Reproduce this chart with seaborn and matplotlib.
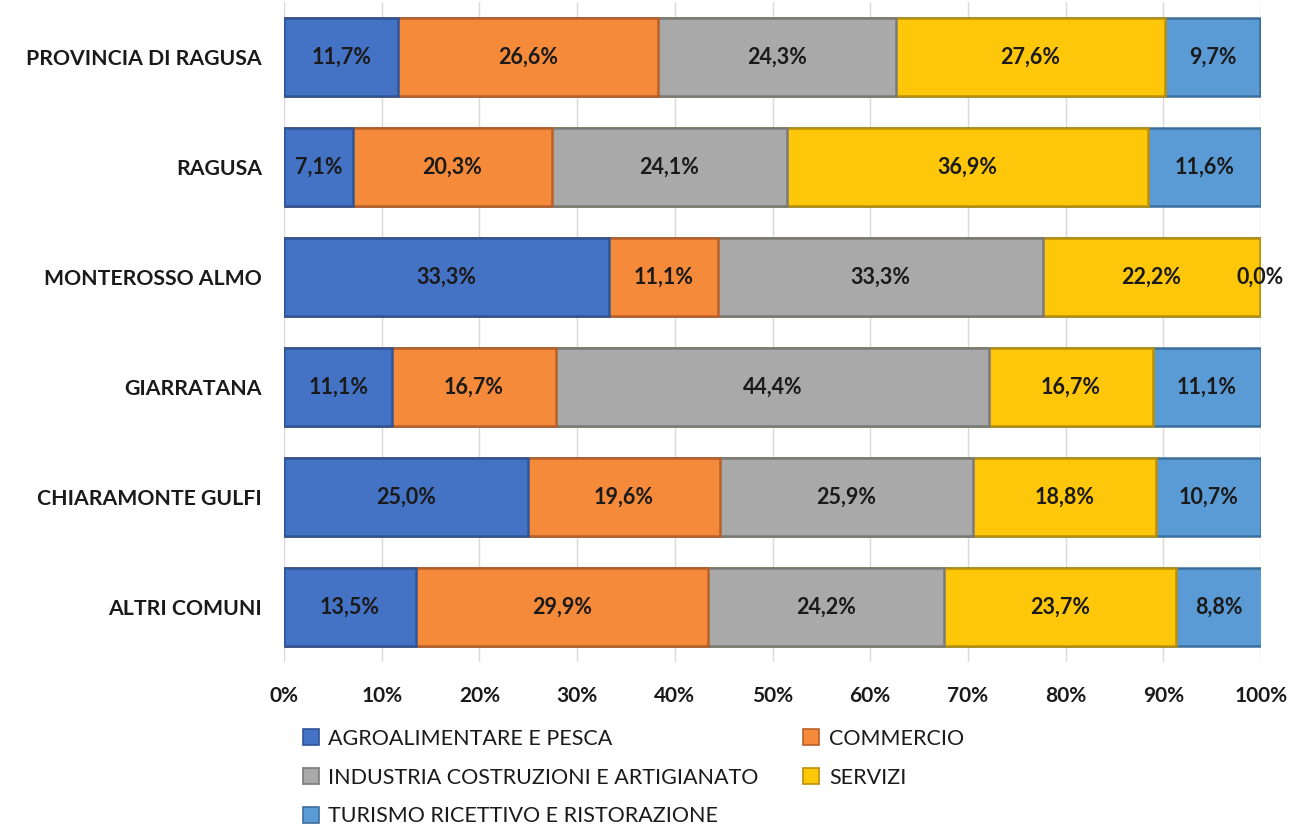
import numpy as np
import pandas as pd
import matplotlib
matplotlib.use("Agg")
import matplotlib.pyplot as plt
import seaborn as sns
from matplotlib.patches import Patch

categories = ["PROVINCIA DI RAGUSA", "RAGUSA", "MONTEROSSO ALMO", "GIARRATANA",
              "CHIARAMONTE GULFI", "ALTRI COMUNI"]
series_names = ["AGROALIMENTARE E PESCA", "COMMERCIO",
                "INDUSTRIA COSTRUZIONI E ARTIGIANATO", "SERVIZI",
                "TURISMO RICETTIVO E RISTORAZIONE"]
agro = [11.7, 7.1, 33.3, 11.1, 25.0, 13.5]
commercio = [26.6, 20.3, 11.1, 16.7, 19.6, 29.9]
industria = [24.3, 24.1, 33.3, 44.4, 25.9, 24.2]
servizi = [27.6, 36.9, 22.2, 16.7, 18.8, 23.7]
turismo = [9.7, 11.6, 0.0, 11.1, 10.7, 8.8]
x_ticks = [0, 10, 20, 30, 40, 50, 60, 70, 80, 90, 100]
x_ticklabels = ["0%", "10%", "20%", "30%", "40%", "50%", "60%", "70%", "80%", "90%", "100%"]

colors = ["#4472C4", "#F58A3A", "#A9A9A9", "#FFC709", "#5B9BD5"]
edges = ["#2F5597", "#B8602A", "#7A7A7A", "#B8900A", "#3C6E9C"]

sns.set_style("white")
plt.rcParams["font.family"] = ["Lato", "DejaVu Sans"]

series = [agro, commercio, industria, servizi, turismo]
df = pd.DataFrame({name: vals for name, vals in zip(series_names, series)})
df["cat"] = categories
cum = df[series_names].cumsum(axis=1)

fig = plt.figure(figsize=(12.89, 8.26), dpi=100)
ax = fig.add_axes([284/1289, 1 - 662/826, (1261 - 284)/1289, 660/826])

for i in reversed(range(len(series_names))):
    name = series_names[i]
    d = pd.DataFrame({"cat": categories, "val": cum[name].values})
    sns.barplot(data=d, x="val", y="cat", orient="h", color=colors[i],
                width=0.71, ax=ax, edgecolor=edges[i], linewidth=1.8,
                saturation=1, zorder=2)

for r, cat in enumerate(categories):
    for i, name in enumerate(series_names):
        v = df.loc[r, name]
        c = cum.loc[r, name]
        ax.text(c - v / 2, r, f"{v:.1f}".replace(".", ",") + "%",
                ha="center", va="center", fontsize=15.5, fontweight="bold",
                color="#1a1a1a", zorder=5)

ax.set_xlim(0, 100)
ax.set_ylim(5.5, -0.5)
ax.set_xticks(x_ticks)
ax.set_xticklabels(x_ticklabels, fontsize=15, fontweight="bold", color="#1a1a1a")
ax.set_yticks(range(len(categories)))
ax.set_yticklabels(categories, fontsize=15.3, fontweight="bold", color="#1a1a1a")
ax.tick_params(axis="y", length=0, pad=16)
ax.tick_params(axis="x", length=0, pad=17)
ax.set_xlabel("")
ax.set_ylabel("")
ax.grid(axis="x", color="#D9D9D9", linewidth=1, zorder=0)
ax.set_axisbelow(True)
for s in ax.spines.values():
    s.set_visible(False)

order = [0, 2, 4, 1, 3]
handles = [Patch(facecolor=colors[i], edgecolor=edges[i], linewidth=1.2) for i in order]
labels = [series_names[i] for i in order]
leg = fig.legend(handles, labels, loc="upper left",
                 bbox_to_anchor=(294/1289, 1 - 720/826), ncol=2, frameon=False,
                 fontsize=15.5, handlelength=0.75, handleheight=0.75,
                 handletextpad=0.45, columnspacing=2.05, labelspacing=0.88,
                 borderaxespad=0)
for t in leg.get_texts():
    t.set_color("#1a1a1a")

fig.savefig("out.png", dpi=100)
